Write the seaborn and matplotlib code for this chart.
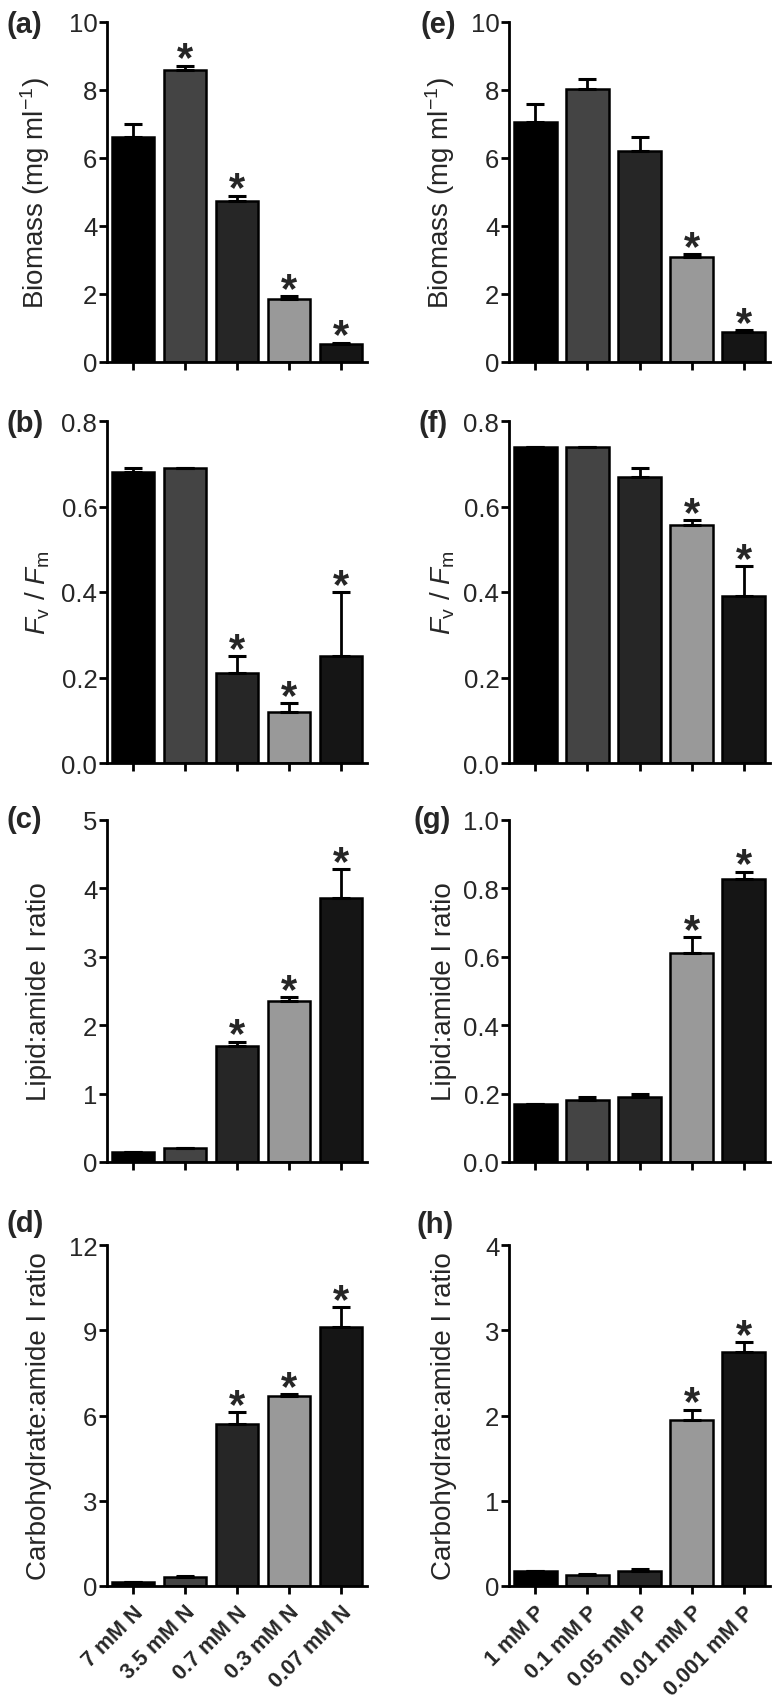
import numpy as np
import pandas as pd
import seaborn as sns
import matplotlib.pyplot as plt

# ───── data ─────────────────────────────────────────────────────────────────
n_labels = ["7 mM N", "3.5 mM N", "0.7 mM N", "0.3 mM N", "0.07 mM N"]
p_labels = ["1 mM P", "0.1 mM P", "0.05 mM P", "0.01 mM P", "0.001 mM P"]

biomass_n     = [6.60, 8.58, 4.74, 1.86, 0.53]
biomass_n_err = [0.39, 0.13, 0.15, 0.07, 0.04]
biomass_n_sig = [0, 1, 1, 1, 1]

fvfm_n     = [0.68, 0.69, 0.21, 0.12, 0.25]
fvfm_n_err = [0.01, 0.00, 0.04, 0.02, 0.15]
fvfm_n_sig = [0, 0, 1, 1, 1]

lipid_n     = [0.14, 0.21, 1.69, 2.35, 3.86]
lipid_n_err = [0.00, 0.00, 0.07, 0.06, 0.42]
lipid_n_sig = [0, 0, 1, 1, 1]

carb_n     = [0.13, 0.31, 5.70, 6.70, 9.11]
carb_n_err = [0.02, 0.05, 0.41, 0.05, 0.70]
carb_n_sig = [0, 0, 1, 1, 1]

biomass_p     = [7.06, 8.02, 6.21, 3.08, 0.89]
biomass_p_err = [0.52, 0.30, 0.39, 0.09, 0.04]
biomass_p_sig = [0, 0, 0, 1, 1]

fvfm_p     = [0.74, 0.74, 0.67, 0.557, 0.39]
fvfm_p_err = [0.00, 0.00, 0.02, 0.012, 0.07]
fvfm_p_sig = [0, 0, 0, 1, 1]

lipid_p     = [0.17, 0.18, 0.19, 0.61, 0.827]
lipid_p_err = [0.00, 0.01, 0.01, 0.047, 0.022]
lipid_p_sig = [0, 0, 0, 1, 1]

carb_p     = [0.18, 0.13, 0.18, 1.95, 2.75]
carb_p_err = [0.00, 0.01, 0.02, 0.12, 0.11]
carb_p_sig = [0, 0, 0, 1, 1]

bar_colors = ["#000000", "#444444", "#262626", "#999999", "#151515"]

# ───── style ────────────────────────────────────────────────────────────────
sns.set_style("ticks")
plt.rcParams['font.family'] = ['Liberation Sans', 'DejaVu Sans']
plt.rcParams['mathtext.fontset'] = 'custom'
plt.rcParams['mathtext.rm'] = 'Liberation Sans'
plt.rcParams['mathtext.it'] = 'Liberation Sans:italic'

W, H = 774, 1699
fig = plt.figure(figsize=(W / 100, H / 100), dpi=100)


def px_axes(left, top, right, bottom):
    return fig.add_axes([left / W, 1 - bottom / H, (right - left) / W, (bottom - top) / H])


def panel(ax, vals, errs, sig, labels, ylim, yticks, fmt, ylabel, show_xlabels):
    df = pd.DataFrame({"cond": labels, "val": vals})
    sns.barplot(data=df, x="cond", y="val", hue="cond", palette=bar_colors,
                legend=False, width=0.82, edgecolor="black", linewidth=1.8,
                saturation=1, ax=ax, errorbar=None)
    xs = np.arange(len(vals))
    ax.errorbar(xs, vals, yerr=[np.zeros(len(errs)), errs], fmt="none",
                ecolor="black", elinewidth=2.0, capsize=6.5, capthick=2.2, zorder=1)
    # significance stars just above the error caps
    for x, v, e, s in zip(xs, vals, errs, sig):
        if s:
            ax.annotate("*", xy=(x, v + e), xytext=(0, -3.5), textcoords="offset points",
                        ha="center", va="baseline", fontsize=30, fontweight="bold")
    ax.set_xlim(-0.5, 4.5)
    ax.set_ylim(*ylim)
    ax.set_yticks(yticks)
    ax.set_yticklabels([fmt.format(t) for t in yticks])
    ax.set_xlabel("")
    ax.set_ylabel(ylabel, fontsize=20)
    ax.tick_params(axis="both", width=2.0, length=6, labelsize=18.5, pad=1, color="black")
    ax.set_xticks(xs)
    if show_xlabels:
        ax.set_xticklabels(labels, rotation=45, ha="right", rotation_mode="anchor",
                           fontsize=15.5, fontweight="bold")
        ax.tick_params(axis="x", pad=5)
    else:
        ax.set_xticklabels([])
    for sp in ["left", "bottom"]:
        ax.spines[sp].set_linewidth(2.0)
        ax.spines[sp].set_color("black")
    sns.despine(ax=ax)


rows = [(22.7, 363), (422, 764), (821, 1163), (1246, 1587)]

# left column: nitrogen series, right column: phosphorus series
left_specs = [
    (biomass_n, biomass_n_err, biomass_n_sig, (0, 10), [0, 2, 4, 6, 8, 10], "{:.0f}",
     "Biomass (mg ml$^{-1}$)", "(a)"),
    (fvfm_n, fvfm_n_err, fvfm_n_sig, (0, 0.8), [0, 0.2, 0.4, 0.6, 0.8], "{:.1f}",
     "$F_\\mathrm{v}$ / $F_\\mathrm{m}$", "(b)"),
    (lipid_n, lipid_n_err, lipid_n_sig, (0, 5), [0, 1, 2, 3, 4, 5], "{:.0f}",
     "Lipid:amide I ratio", "(c)"),
    (carb_n, carb_n_err, carb_n_sig, (0, 12), [0, 3, 6, 9, 12], "{:.0f}",
     "Carbohydrate:amide I ratio", "(d)"),
]
right_specs = [
    (biomass_p, biomass_p_err, biomass_p_sig, (0, 10), [0, 2, 4, 6, 8, 10], "{:.0f}",
     "Biomass (mg ml$^{-1}$)", "(e)"),
    (fvfm_p, fvfm_p_err, fvfm_p_sig, (0, 0.8), [0, 0.2, 0.4, 0.6, 0.8], "{:.1f}",
     "$F_\\mathrm{v}$ / $F_\\mathrm{m}$", "(f)"),
    (lipid_p, lipid_p_err, lipid_p_sig, (0, 1.0), [0, 0.2, 0.4, 0.6, 0.8, 1.0], "{:.1f}",
     "Lipid:amide I ratio", "(g)"),
    (carb_p, carb_p_err, carb_p_sig, (0, 4), [0, 1, 2, 3, 4], "{:.0f}",
     "Carbohydrate:amide I ratio", "(h)"),
]

left_label_pos = [(6, 25), (6, 424), (6, 820), (6, 1224)]
right_label_pos = [(420, 25), (418, 424), (414, 820), (416, 1225)]

for i, ((top, bot), spec, lp) in enumerate(zip(rows, left_specs, left_label_pos)):
    ax = px_axes(107, top, 367, bot)
    panel(ax, spec[0], spec[1], spec[2], n_labels, spec[3], spec[4], spec[5], spec[6], i == 3)
    ax.yaxis.set_label_coords(-0.21, 0.5)
    fig.text(lp[0] / W, 1 - lp[1] / H, spec[7], fontsize=21, fontweight="bold",
             ha="left", va="center")

for i, ((top, bot), spec, lp) in enumerate(zip(rows, right_specs, right_label_pos)):
    ax = px_axes(509, top, 770, bot)
    panel(ax, spec[0], spec[1], spec[2], p_labels, spec[3], spec[4], spec[5], spec[6], i == 3)
    ax.yaxis.set_label_coords(-0.2, 0.5)
    fig.text(lp[0] / W, 1 - lp[1] / H, spec[7], fontsize=21, fontweight="bold",
             ha="left", va="center")

fig.savefig("out.png", dpi=100)
